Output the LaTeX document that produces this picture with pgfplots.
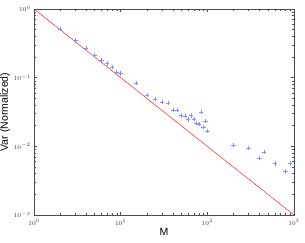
\documentclass[border=0pt]{standalone}
\usepackage{pgfplots}
\pgfplotsset{compat=1.18}
\usepackage{fontspec}
\setmainfont{Liberation Sans}
\definecolor{mblue}{RGB}{125,145,255}
\begin{document}
\begin{tikzpicture}
\begin{axis}[
  name=ax,
  scale only axis,
  width=260pt, height=206pt,
  xmode=log, ymode=log,
  xmin=1, xmax=1000, ymin=1e-3, ymax=1,
  axis line style={draw=black!70, line width=0.6pt},
  tick style={draw=black!70, line width=0.4pt},
  major tick length=3pt, minor tick length=1.6pt,
  tick align=inside,
  xtick={1,10,100,1000}, ytick={0.001,0.01,0.1,1},
  /pgf/number format/assume math mode=true,
  tick label style={font=\fontsize{6}{7}\selectfont, text=black!80},
  xlabel={M}, ylabel={Var (Normalized)},
  label style={font=\fontsize{10.5}{12}\selectfont},
  xlabel style={yshift=4pt},
  ylabel style={yshift=-3pt},
  xticklabel style={yshift=-1pt},
]
\addplot[red, line width=0.4pt] coordinates {(1,1) (1000,0.001)};
\addplot[mblue, only marks, mark=+, mark size=2.2pt, mark options={solid, mblue, line width=0.5pt}] table {
x y
2 0.51
3 0.35
4 0.265
5 0.212
6 0.181
7 0.160
8 0.142
9 0.121
10 0.115
15 0.083
20 0.056
25 0.049
30 0.0445
35 0.043
40 0.034
45 0.0336
50 0.0281
55 0.0275
60 0.0246
65 0.0281
70 0.0252
75 0.022
80 0.0213
85 0.0314
90 0.019
95 0.0232
100 0.0166
200 0.0104
300 0.0095
400 0.0067
450 0.0082
600 0.0056
800 0.0043
900 0.0056
};
\end{axis}
\pgfresetboundingbox
\path ([shift={(-34pt,-27pt)}]ax.south west) rectangle ([shift={(11pt,9pt)}]ax.north east);
\end{tikzpicture}
\end{document}
